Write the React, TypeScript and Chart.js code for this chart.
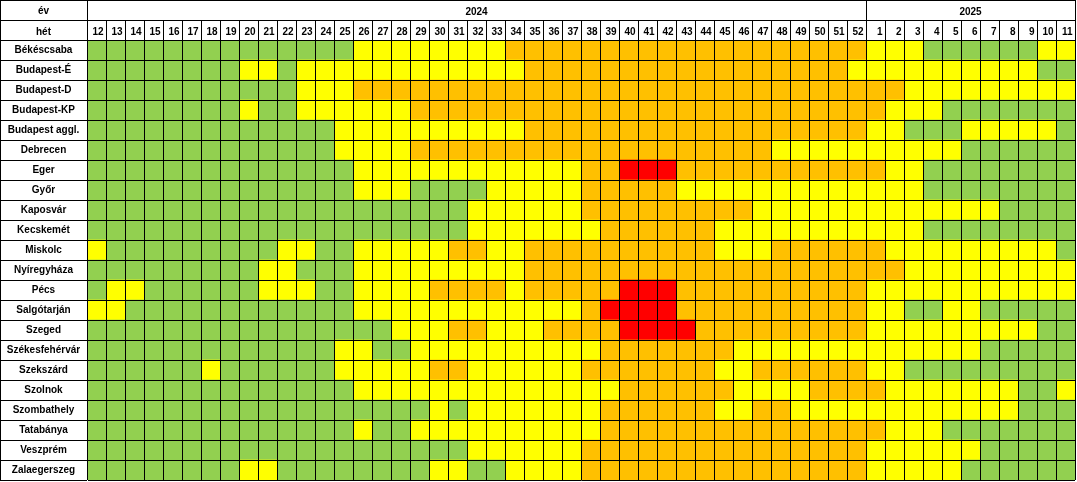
import React, { useEffect, useRef } from "react";
import { Chart, registerables } from "chart.js";

Chart.register(...registerables);

const CITIES = [
  "Békéscsaba", "Budapest-É", "Budapest-D", "Budapest-KP", "Budapest aggl.", "Debrecen",
  "Eger", "Győr", "Kaposvár", "Kecskemét", "Miskolc", "Nyíregyháza", "Pécs", "Salgótarján",
  "Szeged", "Székesfehérvár", "Szekszárd", "Szolnok", "Szombathely", "Tatabánya", "Veszprém",
  "Zalaegerszeg",
];

const WEEKS_2024 = [
  "12", "13", "14", "15", "16", "17", "18", "19", "20", "21", "22", "23", "24", "25", "26", "27",
  "28", "29", "30", "31", "32", "33", "34", "35", "36", "37", "38", "39", "40", "41", "42", "43",
  "44", "45", "46", "47", "48", "49", "50", "51", "52",
];
const WEEKS_2025 = ["1", "2", "3", "4", "5", "6", "7", "8", "9", "10", "11"];
const YEARS = ["2024", "2025"];
const CORNER_LABELS = ["év", "hét"];

// 0 = green, 1 = yellow, 2 = orange, 3 = red ; weeks 12..52 of 2024, then 1..11 of 2025
const LEVEL_COLORS = ["#92D050", "#FFFF00", "#FFC000", "#FF0000"];

const BEKESCSABA = [0,0,0,0,0,0,0,0,0,0, 0,0,0,0,1,1,1,1,1,1, 1,1,2,2,2,2,2,2,2,2, 2,2,2,2,2,2,2,2,2,2, 2, 1,1,1,0,0,0,0,0,0,1,1];
const BUDAPEST_E = [0,0,0,0,0,0,0,0,1,1, 0,1,1,1,1,1,1,1,1,1, 1,1,1,2,2,2,2,2,2,2, 2,2,2,2,2,2,2,2,2,2, 1, 1,1,1,1,1,1,1,1,1,0,0];
const BUDAPEST_D = [0,0,0,0,0,0,0,0,0,0, 0,1,1,1,2,2,2,2,2,2, 2,2,2,2,2,2,2,2,2,2, 2,2,2,2,2,2,2,2,2,2, 2, 2,2,1,1,1,1,1,1,1,1,1];
const BUDAPEST_KP = [0,0,0,0,0,0,0,0,1,0, 0,1,1,1,1,1,1,2,2,2, 2,2,2,2,2,2,2,2,2,2, 2,2,2,2,2,2,2,2,2,2, 2, 2,1,1,1,0,0,0,0,0,0,0];
const BUDAPEST_AGGL = [0,0,0,0,0,0,0,0,0,0, 0,0,0,1,1,1,1,1,1,1, 1,1,1,2,2,2,2,2,2,2, 2,2,2,2,2,2,2,2,2,2, 2, 1,1,0,0,0,1,1,1,1,1,0];
const DEBRECEN = [0,0,0,0,0,0,0,0,0,0, 0,0,0,1,1,1,1,2,2,2, 2,2,2,2,2,2,2,2,2,2, 2,2,2,2,2,2,1,1,1,1, 1, 1,1,1,1,1,0,0,0,0,0,0];
const EGER = [0,0,0,0,0,0,0,0,0,0, 0,0,0,0,1,1,1,1,1,1, 1,1,1,1,1,1,2,2,3,3, 3,2,2,2,2,2,2,2,2,2, 2, 2,1,1,0,0,0,0,0,0,0,0];
const GYOR = [0,0,0,0,0,0,0,0,0,0, 0,0,0,0,1,1,1,0,0,0, 0,1,1,1,1,1,2,2,2,2, 2,1,1,1,1,1,1,1,1,1, 1, 1,1,1,0,0,0,0,0,0,0,0];
const KAPOSVAR = [0,0,0,0,0,0,0,0,0,0, 0,0,0,0,0,0,0,0,0,0, 1,1,1,1,1,1,2,2,2,2, 2,2,2,2,2,1,1,1,1,1, 1, 1,1,1,1,1,1,1,0,0,0,0];
const KECSKEMET = [0,0,0,0,0,0,0,0,0,0, 0,0,0,0,0,0,0,0,0,0, 1,1,1,1,1,1,1,2,2,2, 2,2,2,1,1,1,1,1,1,1, 1, 1,1,1,0,0,0,0,0,0,0,0];
const MISKOLC = [1,0,0,0,0,0,0,0,0,0, 1,1,0,0,1,1,1,1,1,2, 2,1,1,2,2,2,2,2,2,2, 2,2,2,1,1,1,2,2,2,2, 2, 2,1,1,1,1,1,1,1,1,1,0];
const NYIREGYHAZA = [0,0,0,0,0,0,0,0,0,1, 1,0,0,0,1,1,1,1,1,1, 1,1,1,2,2,2,2,2,2,2, 2,2,2,2,2,2,2,2,2,2, 2, 2,2,1,1,1,1,1,1,1,1,1];
const PECS = [0,1,1,0,0,0,0,0,0,1, 1,1,0,0,1,1,1,1,2,2, 2,2,1,2,2,2,2,2,3,3, 3,2,2,2,2,2,2,2,2,2, 2, 1,1,1,1,1,1,1,1,1,1,1];
const SALGOTARJAN = [1,1,0,0,0,0,0,0,0,0, 0,0,0,0,1,1,1,1,1,1, 1,1,1,1,1,1,2,3,3,3, 3,2,2,2,2,2,2,2,2,2, 2, 1,1,0,0,1,1,0,0,0,0,0];
const SZEGED = [0,0,0,0,0,0,0,0,0,0, 0,0,0,0,0,0,1,1,1,2, 2,1,1,1,2,2,2,2,3,3, 3,3,2,2,2,2,2,2,2,2, 2, 1,1,1,1,1,1,1,1,1,0,0];
const SZEKESFEHERVAR = [0,0,0,0,0,0,0,0,0,0, 0,0,0,1,1,0,0,1,1,1, 1,1,1,1,1,1,1,2,2,2, 2,2,2,2,1,1,1,1,1,1, 1, 1,1,1,1,1,1,0,0,0,0,0];
const SZEKSZARD = [0,0,0,0,0,0,1,0,0,0, 0,0,0,1,1,1,1,1,2,2, 1,1,1,1,1,1,2,2,2,2, 2,2,2,1,1,2,2,2,2,2, 2, 1,1,0,0,0,0,0,0,0,0,0];
const SZOLNOK = [0,0,0,0,0,0,0,0,0,0, 0,0,0,0,1,1,1,1,1,1, 1,1,1,1,1,1,1,1,2,2, 2,2,2,2,1,1,1,1,2,2, 2, 2,1,1,1,1,1,1,1,0,0,1];
const SZOMBATHELY = [0,0,0,0,0,0,0,0,0,0, 0,0,0,0,0,0,0,0,1,0, 1,1,1,1,1,1,1,2,2,2, 2,2,2,1,1,2,2,1,1,1, 1, 1,1,1,1,1,1,1,1,0,0,0];
const TATABANYA = [0,0,0,0,0,0,0,0,0,0, 0,0,0,0,1,0,0,1,1,1, 1,1,1,1,1,1,1,2,2,2, 2,2,2,2,2,2,2,2,2,2, 2, 2,1,1,1,0,0,0,0,0,0,0];
const VESZPREM = [0,0,0,0,0,0,0,0,0,0, 0,0,0,0,0,0,0,0,0,0, 1,1,1,1,1,1,2,2,2,2, 2,2,2,2,2,2,2,2,2,2, 2, 1,1,1,1,1,1,0,0,0,0,0];
const ZALAEGERSZEG = [0,0,0,0,0,0,0,0,1,1, 0,0,0,0,0,0,0,0,1,1, 0,0,1,1,1,1,2,2,2,2, 2,2,2,2,2,2,2,2,2,2, 2, 1,1,1,1,1,0,0,0,0,0,0];

const LEVELS = [
  BEKESCSABA, BUDAPEST_E, BUDAPEST_D, BUDAPEST_KP, BUDAPEST_AGGL, DEBRECEN, EGER, GYOR,
  KAPOSVAR, KECSKEMET, MISKOLC, NYIREGYHAZA, PECS, SALGOTARJAN, SZEGED, SZEKESFEHERVAR,
  SZEKSZARD, SZOLNOK, SZOMBATHELY, TATABANYA, VESZPREM, ZALAEGERSZEG,
];

const FAMILY = "'Liberation Sans', Arial, sans-serif";
const LABEL_COL = 87;
const HEADER_ROW = 20;

export default function App() {
  const ref = useRef<HTMLCanvasElement | null>(null);

  useEffect(() => {
    const canvas = ref.current;
    if (!canvas) return;

    const weeks = [...WEEKS_2024, ...WEEKS_2025];
    const nCols = weeks.length;
    const font = { family: FAMILY, size: 10, weight: "bold" as const };

    // measure widest row label so the labels can be centred in the label column
    const m = document.createElement("canvas").getContext("2d")!;
    m.font = `normal bold 10px ${FAMILY}`;
    const widest = Math.max(...CITIES.map((c) => m.measureText(c).width));
    const yPad = -LABEL_COL / 2 - widest / 2;

    // year header: boundaries and centres
    const spans = [WEEKS_2024.length, WEEKS_2025.length];
    const yearTicks: { value: number; label: string }[] = [{ value: 0, label: "" }];
    let acc = 0;
    spans.forEach((s, i) => {
      yearTicks.push({ value: acc + s / 2, label: YEARS[i] });
      acc += s;
      yearTicks.push({ value: acc, label: "" });
    });
    const boundaries = new Set(yearTicks.filter((t) => t.label === "").map((t) => t.value));

    const datasets = weeks.map((_, c) => ({
      data: CITIES.map(() => [c, c + 1]),
      backgroundColor: CITIES.map((_, r) => LEVEL_COLORS[LEVELS[r][c]]),
      borderWidth: 0,
      grouped: false,
      barPercentage: 1,
      categoryPercentage: 1,
      xAxisID: "x",
      yAxisID: "y",
    }));

    const cornerPlugin = {
      id: "corner",
      afterDraw(chart: any) {
        const { ctx } = chart;
        const ys = chart.scales.xy;
        const ws = chart.scales.xw;
        const yy = chart.scales.y;
        const l = Math.round(yy.left);
        const r = Math.round(yy.right);
        ctx.save();
        ctx.strokeStyle = "#000";
        ctx.lineWidth = 1;
        ctx.beginPath();
        ctx.moveTo(l, Math.round(ys.top) + 0.5);
        ctx.lineTo(Math.round(ws.right) + 1, Math.round(ys.top) + 0.5);
        ctx.moveTo(l + 0.5, Math.round(ys.top));
        ctx.lineTo(l + 0.5, Math.round(yy.bottom) + 1);
        ctx.moveTo(l, Math.round(ys.bottom) + 0.5);
        ctx.lineTo(r, Math.round(ys.bottom) + 0.5);
        ctx.stroke();
        ctx.fillStyle = "#000";
        ctx.font = `bold 10px ${FAMILY}`;
        ctx.textAlign = "center";
        ctx.textBaseline = "middle";
        ctx.fillText(CORNER_LABELS[0], (l + r) / 2, (ys.top + ys.bottom) / 2 + 1);
        ctx.fillText(CORNER_LABELS[1], (l + r) / 2, (ws.top + ws.bottom) / 2 + 2);
        ctx.restore();
      },
    };

    const chart = new Chart(canvas, {
      type: "bar",
      data: { labels: CITIES, datasets: datasets as any },
      options: {
        indexAxis: "y",
        animation: false,
        responsive: false,
        events: [],
        layout: { padding: { left: 0, top: 0, right: 2, bottom: 2 } },
        plugins: {
          legend: { display: false },
          tooltip: { enabled: false },
          title: { display: false },
        },
        scales: {
          x: { type: "linear", min: 0, max: nCols, display: false },
          y: {
            type: "category",
            position: "left",
            offset: true,
            grid: { offset: true, color: "#000", lineWidth: 1, z: 1, drawTicks: true, tickLength: LABEL_COL },
            border: { display: true, color: "#000" },
            ticks: { color: "#000", font, crossAlign: "center", padding: yPad, autoSkip: false },
            afterFit: (s: any) => {
              s.width = LABEL_COL;
            },
          },
          xw: {
            type: "category",
            axis: "x",
            position: "top",
            labels: weeks,
            offset: true,
            weight: 0,
            grid: { offset: true, color: "#000", lineWidth: 1, z: 1, drawTicks: true, tickLength: HEADER_ROW },
            border: { display: true, color: "#000", z: 1 },
            ticks: {
              color: "#000",
              font,
              autoSkip: false,
              maxRotation: 0,
              minRotation: 0,
              align: "end",
              labelOffset: 7,
              padding: -18.5,
            },
            afterFit: (s: any) => {
              s.height = HEADER_ROW;
            },
          },
          xy: {
            type: "linear",
            axis: "x",
            position: "top",
            min: 0,
            max: nCols,
            weight: 1,
            grid: {
              drawOnChartArea: false,
              color: (ctx: any) => (ctx.tick && boundaries.has(ctx.tick.value) ? "#000" : "rgba(0,0,0,0)"),
              lineWidth: 1,
              drawTicks: true,
              tickLength: HEADER_ROW,
            },
            border: { display: true, color: "#000" },
            ticks: {
              color: "#000",
              font,
              autoSkip: false,
              maxRotation: 0,
              minRotation: 0,
              padding: -18.5,
              callback: (v: any) => {
                const t = yearTicks.find((k) => k.value === v);
                return t ? t.label : "";
              },
            },
            afterBuildTicks: (s: any) => {
              s.ticks = yearTicks.map((t) => ({ value: t.value }));
            },
            afterFit: (s: any) => {
              s.height = HEADER_ROW;
            },
          },
        } as any,
      },
      plugins: [cornerPlugin],
    });

    return () => chart.destroy();
  }, []);

  return (
    <div style={{ position: "absolute", left: 0, top: 0, width: 1077, height: 482, background: "#fff" }}>
      <canvas ref={ref} width={1077} height={482} style={{ display: "block" }} />
    </div>
  );
}
